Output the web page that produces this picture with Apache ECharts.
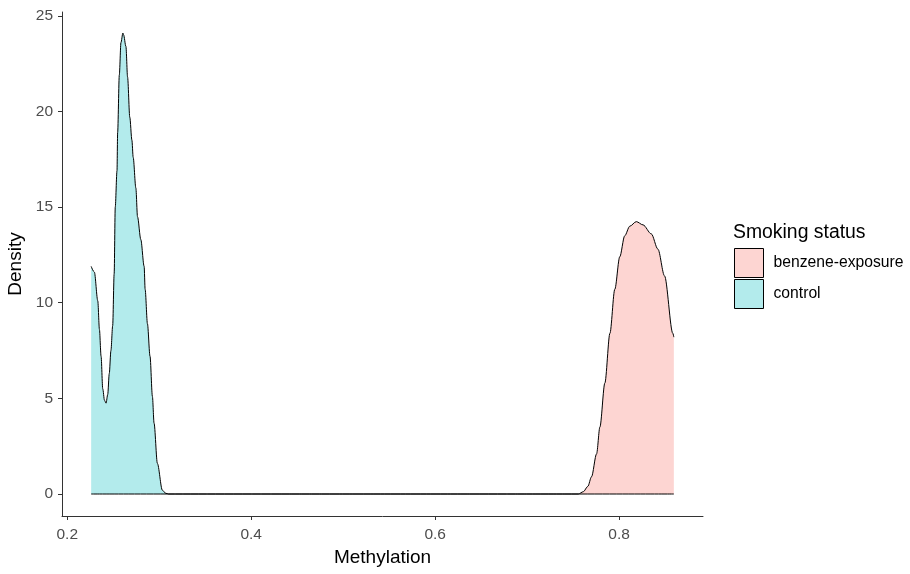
<!DOCTYPE html>
<html>
<head>
<meta charset="utf-8">
<script src="https://cdn.jsdelivr.net/npm/echarts@6/dist/echarts.min.js"></script>
<style>
html,body{margin:0;padding:0;background:#fff;}
#chart{width:910px;height:574px;}
</style>
</head>
<body>
<div id="chart"></div>
<script>
// Data
const groups = ['benzene-exposure', 'control'];
const fillColors = ['#FDD5D2', '#B3EBEC'];

const benzeneX = [0.226, 0.7557, 0.7611, 0.766, 0.770, 0.7755, 0.7791, 0.7845, 0.790, 0.7953, 0.8007, 0.8061, 0.8116, 0.8187, 0.826, 0.835, 0.8422, 0.8494, 0.8584, 0.8595];
const benzeneY = [0, 0, 0.12, 0.4, 0.9, 2.1, 3.5, 5.8, 8.4, 10.7, 12.4, 13.5, 14.0, 14.24, 14.07, 13.6, 12.8, 11.4, 8.4, 8.2];

const controlX = [0.226, 0.2295, 0.2332, 0.235, 0.2368, 0.2386, 0.2405, 0.2422, 0.244, 0.2457, 0.2475, 0.2494, 0.251, 0.2522, 0.2541, 0.2548, 0.2566, 0.2584, 0.2605, 0.2613, 0.2638, 0.2656, 0.268, 0.2703, 0.2717, 0.2746, 0.2764, 0.280, 0.2836, 0.2847, 0.2872, 0.290, 0.2926, 0.2944, 0.298, 0.3034, 0.307, 0.310, 0.8595];
const controlY = [11.9, 11.6, 10.1, 8.6, 7.2, 5.5, 4.9, 4.75, 5.2, 6.3, 7.5, 8.8, 11.5, 15.0, 16.9, 18.9, 21.9, 23.6, 24.1, 24.0, 23.4, 21.8, 19.7, 18.5, 17.6, 16.0, 14.5, 13.3, 11.9, 10.7, 8.9, 7.2, 5.1, 3.7, 1.6, 0.2, 0.04, 0, 0];

const xTicks = [0.2, 0.4, 0.6, 0.8];
const yTicks = [0, 5, 10, 15, 20, 25];

const zip = (xs, ys) => xs.map((x, i) => [x, ys[i]]);
const FONT = 'Liberation Sans, Arial, sans-serif';

const chart = echarts.init(document.getElementById('chart'));
const axisCommon = {
  axisLine: {show: true, onZero: false, lineStyle: {color: '#333', width: 1}},
  splitLine: {show: false}
};
chart.setOption({
  animation: false,
  backgroundColor: '#fff',
  textStyle: {fontFamily: FONT},
  grid: {left: 62, right: 207, top: 12, bottom: 58, containLabel: false, outerBoundsMode: 'none'},
  title: {
    text: 'Smoking status', left: 733, top: 223, padding: 0,
    textStyle: {fontSize: 19.4, fontWeight: 'normal', color: '#000', fontFamily: FONT}
  },
  legend: {
    orient: 'vertical', left: 734, top: 248, padding: 0,
    itemWidth: 29, itemHeight: 29, itemGap: 1,
    icon: 'rect',
    textStyle: {fontSize: 15.7, color: '#000', fontFamily: FONT, padding: [5, 0, 0, 5]},
    data: groups.map((g, i) => ({name: g, itemStyle: {color: fillColors[i], borderColor: '#000', borderWidth: 1}}))
  },
  xAxis: Object.assign({
    type: 'value', min: 0.1943, max: 0.8912,
    name: 'Methylation', nameLocation: 'middle', nameGap: 30,
    nameTextStyle: {fontSize: 19, color: '#000'},
    axisTick: {show: true, length: 4, customValues: xTicks, lineStyle: {color: '#333'}},
    axisLabel: {customValues: xTicks, fontSize: 15.5, color: '#4D4D4D', margin: 11,
      formatter: v => v.toFixed(1)}
  }, axisCommon),
  yAxis: Object.assign({
    type: 'value', min: -1.15, max: 25.2,
    name: 'Density', nameLocation: 'middle', nameGap: 27,
    nameTextStyle: {fontSize: 19, color: '#000'},
    axisTick: {show: true, length: 4, customValues: yTicks, lineStyle: {color: '#333'}},
    axisLabel: {customValues: yTicks, fontSize: 15.5, color: '#4D4D4D', margin: 9}
  }, axisCommon),
  series: [
    {
      name: groups[0], type: 'line', data: zip(benzeneX, benzeneY),
      showSymbol: false, smooth: 0.3, smoothMonotone: 'x',
      itemStyle: {color: fillColors[0]},
      lineStyle: {color: '#000', width: 1},
      areaStyle: {color: fillColors[0], opacity: 1, origin: 0}
    },
    {
      name: groups[1], type: 'line', data: zip(controlX, controlY),
      showSymbol: false, smooth: 0.3, smoothMonotone: 'x',
      itemStyle: {color: fillColors[1]},
      lineStyle: {color: '#000', width: 1},
      areaStyle: {color: fillColors[1], opacity: 1, origin: 0}
    }
  ]
});
</script>
</body>
</html>
